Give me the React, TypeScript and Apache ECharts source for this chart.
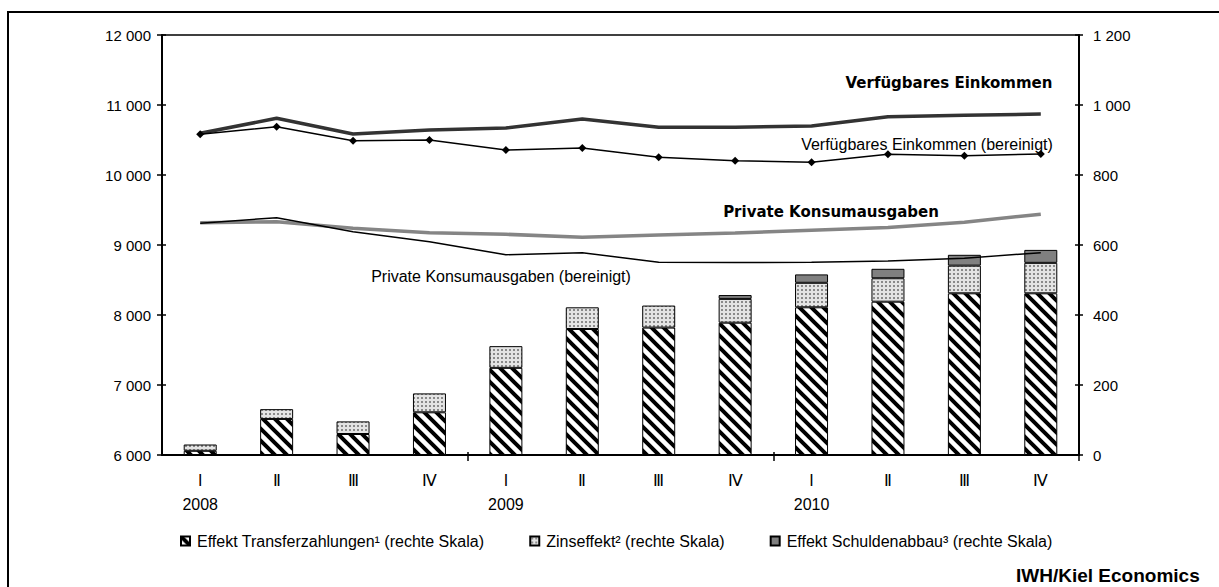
import React, { useEffect, useRef } from "react";
import * as echarts from "echarts";

const quarters = ["I", "Ⅱ", "Ⅲ", "Ⅳ", "I", "Ⅱ", "Ⅲ", "Ⅳ", "I", "Ⅱ", "Ⅲ", "Ⅳ"];
const years = ["2008", "", "", "", "2009", "", "", "", "2010", "", "", ""];

// left scale
const verfuegbar = [10596, 10810, 10586, 10643, 10670, 10800, 10681, 10683, 10700, 10833, 10852, 10871];
const verfuegbarBereinigt = [10581, 10690, 10490, 10500, 10357, 10386, 10253, 10204, 10181, 10296, 10276, 10300];
const konsum = [9319, 9333, 9239, 9176, 9153, 9110, 9143, 9171, 9210, 9250, 9325, 9440];
const konsumBereinigt = [9310, 9390, 9190, 9047, 8861, 8890, 8753, 8750, 8753, 8771, 8810, 8890];

// right scale
const transfer = [12, 103, 60, 122, 249, 360, 364, 378, 422, 438, 462, 462];
const zins = [18, 28, 36, 54, 62, 62, 63, 68, 70, 67, 79, 87];
const schulden = [0, 0, 0, 0, 0, 0, 0, 11, 24, 27, 31, 37];

const seriesNames = [
  "Effekt Transferzahlungen¹ (rechte Skala)",
  "Zinseffekt² (rechte Skala)",
  "Effekt Schuldenabbau³ (rechte Skala)",
];

const FONT = "Liberation Sans";

function hatchCanvas() {
  const c = document.createElement("canvas");
  c.width = 12;
  c.height = 12;
  const g = c.getContext("2d")!;
  g.fillStyle = "#fff";
  g.fillRect(0, 0, 12, 12);
  g.strokeStyle = "#000";
  g.lineWidth = 4;
  g.beginPath();
  for (let o = -24; o <= 24; o += 12) {
    g.moveTo(o - 3, -3);
    g.lineTo(o + 15, 15);
  }
  g.stroke();
  return c;
}

function dotCanvas() {
  const c = document.createElement("canvas");
  c.width = 4;
  c.height = 4;
  const g = c.getContext("2d")!;
  g.fillStyle = "#e4e4e4";
  g.fillRect(0, 0, 4, 4);
  g.fillStyle = "#8a8a8a";
  g.fillRect(1, 1, 2, 2);
  return c;
}

const fmt = (v: number) => String(v).replace(/\B(?=(\d{3})+(?!\d))/g, " ");
const nz = (arr: number[]) => arr.map((v) => (v === 0 ? "-" : v));

export default function App() {
  const ref = useRef<HTMLDivElement>(null);
  useEffect(() => {
    if (!ref.current) return;
    const chart = echarts.init(ref.current, null, { renderer: "svg" });
    const yearTick = (index: number) => index === 4 || index === 8;
    const axisLabelStyle = { color: "#000", fontFamily: FONT, fontSize: 15 };
    const textStyle = (size: number, bold = false, family = FONT) => ({
      font: `${bold ? "bold " : ""}${size}px "${family}"`,
      fill: "#000",
      align: "center",
      textAlign: "center",
      verticalAlign: "middle",
      textVerticalAlign: "middle",
    });
    chart.setOption({
      animation: false,
      backgroundColor: "#fff",
      grid: { left: 162, right: 140, top: 35, bottom: 132, containLabel: false },
      legend: {
        left: 175,
        top: 528,
        itemWidth: 9,
        itemHeight: 9,
        itemGap: 45,
        icon: "rect",
        data: seriesNames,
        textStyle: { color: "#000", fontFamily: FONT, fontSize: 16, padding: [0, 0, 0, 2] },
        selectedMode: false,
      },
      xAxis: [
        {
          type: "category",
          data: quarters,
          position: "bottom",
          boundaryGap: true,
          axisLine: { lineStyle: { color: "#000", width: 2 } },
          axisTick: { show: true, interval: yearTick, length: 6, lineStyle: { color: "#000", width: 1.5 } },
          axisLabel: {
            interval: 0,
            color: "#000",
            fontFamily: FONT,
            fontSize: 16,
            lineHeight: 24,
            margin: 13,
            formatter: (v: string, i: number) => (years[i] ? `${v}\n${years[i]}` : v),
          },
          splitLine: { show: false },
        },
        {
          type: "category",
          data: quarters,
          position: "bottom",
          axisLine: { show: false },
          axisTick: { show: true, inside: true, interval: yearTick, length: 3, lineStyle: { color: "#000", width: 1.5 } },
          axisLabel: { show: false },
          splitLine: { show: false },
        },
        {
          type: "category",
          data: quarters,
          position: "top",
          axisLine: { show: true, lineStyle: { color: "#000", width: 1.5 } },
          axisTick: { show: false },
          axisLabel: { show: false },
          splitLine: { show: false },
        },
      ],
      yAxis: [
        {
          type: "value",
          position: "left",
          min: 6000,
          max: 12000,
          interval: 1000,
          axisLine: { show: true, lineStyle: { color: "#000", width: 2 } },
          axisTick: { show: true, length: 5, lineStyle: { color: "#000", width: 1.5 } },
          axisLabel: { ...axisLabelStyle, margin: 11, formatter: fmt },
          splitLine: { show: false },
        },
        {
          type: "value",
          position: "right",
          min: 0,
          max: 1200,
          interval: 200,
          axisLine: { show: true, lineStyle: { color: "#000", width: 2 } },
          axisTick: { show: true, length: 4, lineStyle: { color: "#000", width: 1.5 } },
          axisLabel: { ...axisLabelStyle, margin: 14, formatter: fmt },
          splitLine: { show: false },
        },
        {
          type: "value",
          position: "left",
          min: 6000,
          max: 12000,
          interval: 1000,
          axisLine: { show: false },
          axisTick: { show: true, inside: true, length: 4, lineStyle: { color: "#000", width: 1.5 } },
          axisLabel: { show: false },
          splitLine: { show: false },
        },
        {
          type: "value",
          position: "right",
          min: 0,
          max: 1200,
          interval: 200,
          axisLine: { show: false },
          axisTick: { show: true, inside: true, length: 4, lineStyle: { color: "#000", width: 1.5 } },
          axisLabel: { show: false },
          splitLine: { show: false },
        },
      ],
      series: [
        {
          name: seriesNames[0],
          type: "bar",
          stack: "b",
          yAxisIndex: 1,
          barWidth: 33,
          data: transfer,
          itemStyle: { color: { image: hatchCanvas(), repeat: "repeat" }, borderColor: "#000", borderWidth: 1 },
          z: 2,
        },
        {
          name: seriesNames[1],
          type: "bar",
          stack: "b",
          yAxisIndex: 1,
          barWidth: 33,
          data: zins,
          itemStyle: { color: { image: dotCanvas(), repeat: "repeat" }, borderColor: "#000", borderWidth: 1 },
          z: 2,
        },
        {
          name: seriesNames[2],
          type: "bar",
          stack: "b",
          yAxisIndex: 1,
          barWidth: 33,
          data: nz(schulden),
          itemStyle: { color: "#808080", borderColor: "#000", borderWidth: 1 },
          z: 2,
        },
        {
          name: "Verfügbares Einkommen",
          type: "line",
          yAxisIndex: 0,
          data: verfuegbar,
          symbol: "none",
          lineStyle: { color: "#333333", width: 3.5 },
          z: 5,
        },
        {
          name: "Private Konsumausgaben",
          type: "line",
          yAxisIndex: 0,
          data: konsum,
          symbol: "none",
          lineStyle: { color: "#858585", width: 3.5 },
          z: 5,
        },
        {
          name: "Verfügbares Einkommen (bereinigt)",
          type: "line",
          yAxisIndex: 0,
          data: verfuegbarBereinigt,
          symbol: "diamond",
          symbolSize: 8,
          itemStyle: { color: "#000" },
          lineStyle: { color: "#000", width: 1.5 },
          z: 6,
        },
        {
          name: "Private Konsumausgaben (bereinigt)",
          type: "line",
          yAxisIndex: 0,
          data: konsumBereinigt,
          symbol: "none",
          lineStyle: { color: "#000", width: 1.5 },
          z: 6,
        },
      ],
      graphic: [
        {
          type: "rect",
          shape: { x: 8, y: 12, width: 1400, height: 800 },
          style: { fill: "none", stroke: "#000", lineWidth: 2 },
          silent: true,
        },
        { type: "text", x: 949, y: 83, style: { text: "Verfügbares Einkommen", ...textStyle(15, true, "DejaVu Sans") } },
        { type: "text", x: 927, y: 144, style: { text: "Verfügbares Einkommen (bereinigt)", ...textStyle(16) } },
        { type: "text", x: 831, y: 212, style: { text: "Private Konsumausgaben", ...textStyle(15, true, "DejaVu Sans") } },
        { type: "text", x: 501, y: 276, style: { text: "Private Konsumausgaben (bereinigt)", ...textStyle(16) } },
        {
          type: "text",
          x: 1016,
          y: 575,
          style: {
            text: "IWH/Kiel Economics",
            font: `bold 19px "${FONT}"`,
            fill: "#000",
            align: "left",
            textAlign: "left",
            verticalAlign: "middle",
            textVerticalAlign: "middle",
          },
        },
      ],
    });
    return () => chart.dispose();
  }, []);
  return (
    <div
      ref={ref}
      style={{ position: "fixed", left: 0, top: 0, width: 1219, height: 587, background: "#fff" }}
    />
  );
}
